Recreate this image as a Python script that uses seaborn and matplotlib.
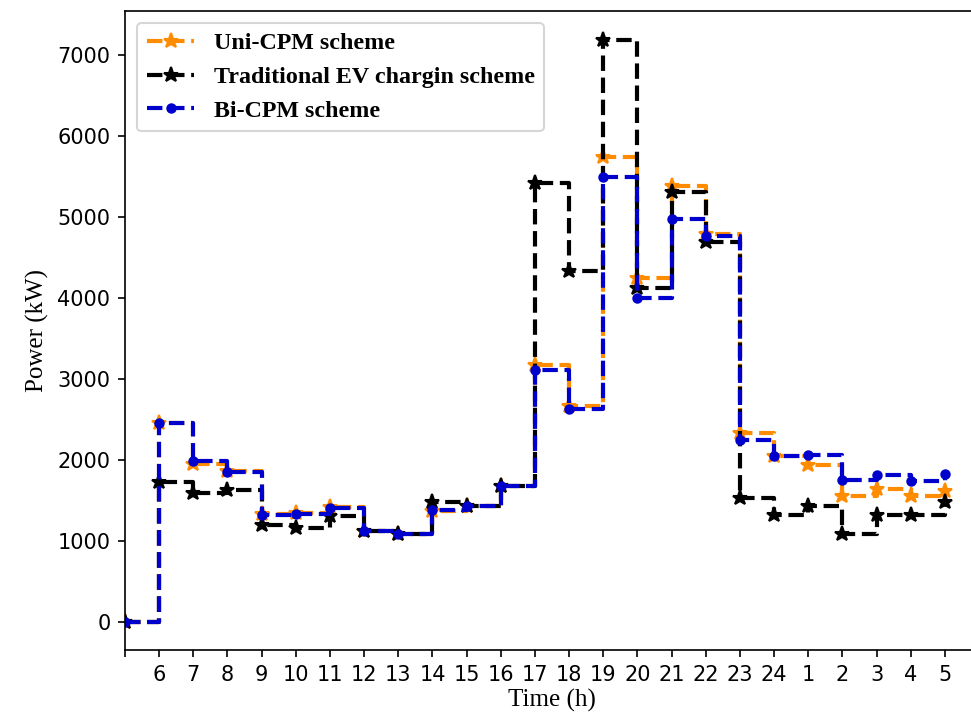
import matplotlib
matplotlib.use("Agg")
import matplotlib.pyplot as plt
import seaborn as sns
import numpy as np

# Data
hour_labels = ["", "6", "7", "8", "9", "10", "11", "12", "13", "14", "15", "16", "17",
               "18", "19", "20", "21", "22", "23", "24", "1", "2", "3", "4", "5"]
uni_cpm = [0, 2450, 1950, 1865, 1330, 1340, 1410, 1125, 1085, 1370, 1424, 1679, 3175,
           2660, 5745, 4243, 5387, 4786, 2329, 2050, 1938, 1547, 1638, 1547, 1609]
traditional = [0, 1720, 1589, 1630, 1189, 1157, 1300, 1123, 1080, 1473, 1424, 1679, 5416,
               4337, 7185, 4120, 5313, 4695, 1527, 1321, 1424, 1086, 1321, 1321, 1473]
bi_cpm = [0, 2453, 1979, 1848, 1321, 1329, 1403, 1123, 1086, 1383, 1424, 1679, 3111,
          2625, 5498, 4004, 4975, 4765, 2238, 2049, 2062, 1745, 1815, 1737, 1827]
series_names = ["Uni-CPM scheme", "Traditional EV chargin scheme", "Bi-CPM scheme"]

x = np.arange(len(hour_labels))

fig = plt.figure(figsize=(971 / 150, 725 / 150), dpi=150)
ax = fig.add_axes([125 / 971, 75 / 725, 854 / 971, 639 / 725])

sns.lineplot(x=x, y=uni_cpm, ax=ax, drawstyle="steps-post", linestyle="--",
             color="#FF8C00", marker="*", markersize=7.5, markeredgewidth=1,
             markeredgecolor="#FF8C00", linewidth=2, label=series_names[0])
sns.lineplot(x=x, y=traditional, ax=ax, drawstyle="steps-post", linestyle="--",
             color="black", marker="*", markersize=7.5, markeredgewidth=1,
             markeredgecolor="black", linewidth=2, label=series_names[1])
sns.lineplot(x=x, y=bi_cpm, ax=ax, drawstyle="steps-post", linestyle="--",
             color="#0000CD", marker="o", markersize=4, markeredgewidth=1,
             markeredgecolor="#0000CD", linewidth=2, label=series_names[2])

ax.set_xlim(0, 25)
ax.set_ylim(-352, 7546)
ax.set_xticks(x)
ax.set_xticklabels(hour_labels, fontsize=10)
ax.set_yticks([0, 1000, 2000, 3000, 4000, 5000, 6000, 7000])
ax.tick_params(axis="y", labelsize=10)
ax.set_xlabel("Time (h)", fontfamily="Liberation Serif", fontsize=12, labelpad=2)
ax.set_ylabel("Power (kW)", fontfamily="Liberation Serif", fontsize=12)

ax.legend(loc="upper left", prop={"family": "Liberation Serif", "weight": "bold", "size": 11.5})

fig.savefig("out.png", dpi=150)
